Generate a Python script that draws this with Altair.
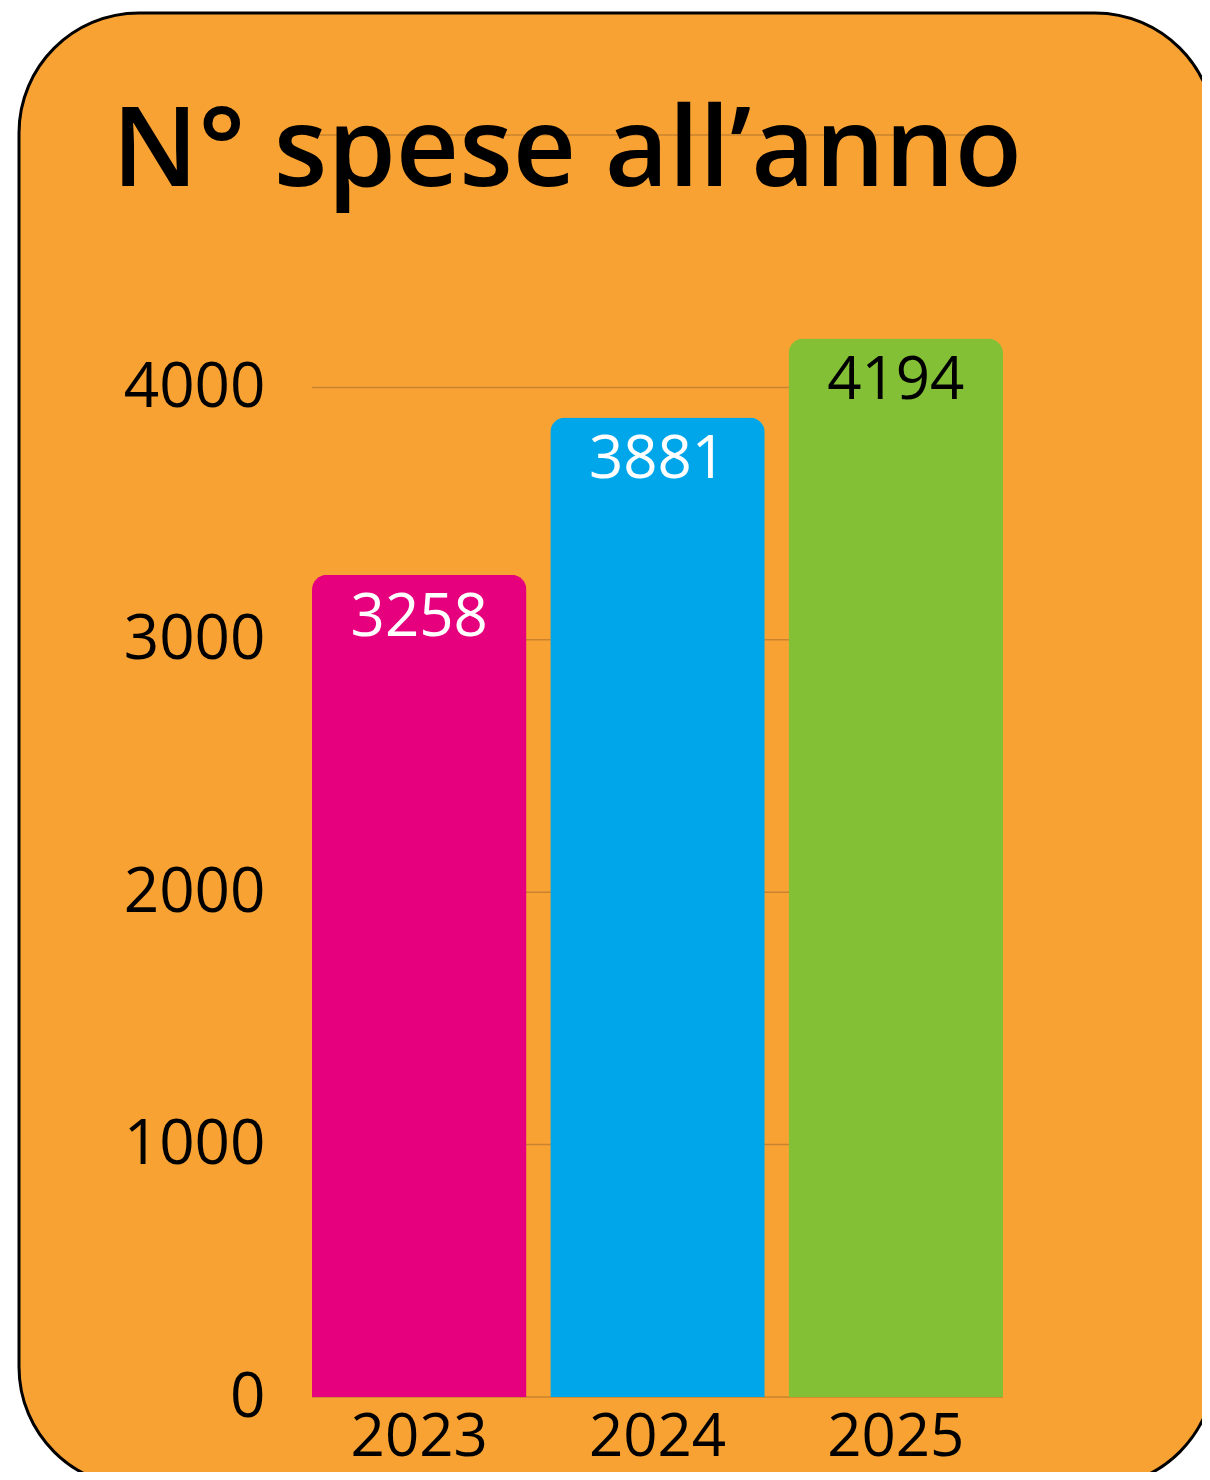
import altair as alt
import pandas as pd

years = ["2023", "2024", "2025"]
counts = [3258, 3881, 4194]
tick_values = [0, 1000, 2000, 3000, 4000]
grid_values = [0, 1000, 2000, 3000, 4000, 5000]
bar_colors = ["#E6007E", "#00A6EA", "#83C036"]
title_text = "N° spese all’anno"

df = pd.DataFrame({"anno": years, "spese": counts})
grid_df = pd.DataFrame({"spese": grid_values})

FONT = "Open Sans"
ORANGE = "#F8A233"

y_scale = alt.Scale(domain=[0, 5000], nice=False, zero=True)
x_scale = alt.Scale(paddingInner=0.1, paddingOuter=0)
y_axis = alt.Axis(values=tick_values, grid=False, domain=False, ticks=False, tickSize=0,
                  labelFont=FONT, labelFontSize=62, labelColor="black", labelPadding=47,
                  format="d", title=None, zindex=1)
x_axis = alt.Axis(labelAngle=0, domain=False, ticks=False, tickSize=0, labelFont=FONT,
                  labelFontSize=60, labelColor="black", labelPadding=11, title=None, zindex=1)

card = alt.Chart(alt.Data(values=[{"k": 1}])).mark_rect(
    fill=ORANGE, stroke="black", strokeWidth=3, cornerRadius=120, clip=False
).encode(x=alt.value(-293), x2=alt.value(903), y=alt.value(-122), y2=alt.value(1352))

grid = alt.Chart(grid_df).mark_rule(color="#C98330", strokeWidth=1.5).encode(
    y=alt.Y("spese:Q", scale=y_scale, axis=y_axis)
)

bars = alt.Chart(df).mark_bar(cornerRadiusTopLeft=15, cornerRadiusTopRight=15).encode(
    x=alt.X("anno:N", sort=years, scale=x_scale, axis=x_axis),
    y=alt.Y("spese:Q", scale=y_scale, axis=y_axis),
    color=alt.Color("anno:N", scale=alt.Scale(domain=years, range=bar_colors), legend=None),
)

labels = alt.Chart(df).mark_text(baseline="top", dy=14, font=FONT, fontSize=60).encode(
    x=alt.X("anno:N", sort=years, scale=x_scale, axis=x_axis),
    y=alt.Y("spese:Q", scale=y_scale, axis=y_axis),
    text=alt.Text("spese:Q", format="d"),
    color=alt.condition("datum.anno === '2025'", alt.value("black"), alt.value("white")),
)

chart = alt.layer(card, grid, bars, labels).properties(
    width=691,
    height=1262,
    title=alt.Title(title_text, anchor="start", frame="group", dx=-200, offset=-197,
                    font=FONT, fontSize=110, fontWeight=600, color="black"),
    autosize=alt.AutoSizeParams(type="none"),
    padding={"left": 304, "top": 127, "right": 199, "bottom": 75},
).configure_view(strokeWidth=0)

chart.save("out.html", embed_options={"renderer": "svg", "actions": False})
